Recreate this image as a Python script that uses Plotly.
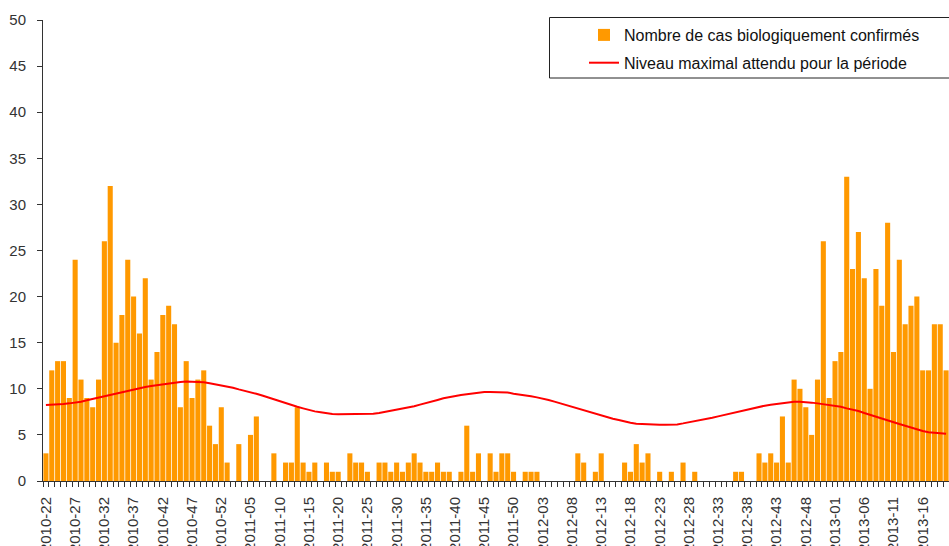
import plotly.graph_objects as go

# ---- data -------------------------------------------------------------
year_weeks = [(2010, 22, 52), (2011, 1, 52), (2012, 1, 52), (2013, 1, 20)]
weeks = [f"{y}-{w:02d}" for (y, a, b) in year_weeks for w in range(a, b + 1)]

cases_2010 = [3, 12, 13, 13, 9, 24, 11, 9, 8, 11, 26, 32, 15, 18, 24, 20, 16, 22, 11, 14,
              18, 19, 17, 8, 13, 9, 11, 12, 6, 4, 8]
cases_2011 = [2, 0, 4, 0, 5, 7, 0, 0, 3, 0, 2, 2, 8, 2, 1, 2, 0, 2, 1, 1,
              0, 3, 2, 2, 1, 0, 2, 2, 1, 2, 1, 2, 3, 2, 1, 1, 2, 1, 1, 0,
              1, 6, 1, 3, 0, 3, 1, 3, 3, 1, 0, 1]
cases_2012 = [1, 1, 0, 0, 0, 0, 0, 0, 3, 2, 0, 1, 3, 0, 0, 0, 2, 1, 4, 2,
              3, 0, 1, 0, 1, 0, 2, 0, 1, 0, 0, 0, 0, 0, 0, 1, 1, 0, 0, 3,
              2, 3, 2, 7, 2, 11, 10, 8, 5, 11, 26, 9]
cases_2013 = [13, 14, 33, 23, 27, 22, 10, 23, 19, 28, 14, 24, 17, 19, 20, 12, 12, 17, 17, 12]

level_2010 = [8.25, 8.27, 8.31, 8.36, 8.42, 8.5, 8.6, 8.75, 8.9, 9.05, 9.2, 9.35, 9.5, 9.65,
              9.8, 9.95, 10.1, 10.2, 10.3, 10.4, 10.5, 10.6, 10.7, 10.75, 10.78, 10.78,
              10.75, 10.7, 10.6, 10.5, 10.35]
level_2011 = [10.23, 10.12, 9.94, 9.8, 9.63, 9.46, 9.27, 9.06, 8.84, 8.62, 8.41, 8.22, 8.05,
              7.88, 7.7, 7.55, 7.45, 7.34, 7.27, 7.23, 7.23, 7.23, 7.23, 7.23, 7.25, 7.3,
              7.37, 7.48, 7.63, 7.77, 7.87, 7.95, 8.1, 8.28, 8.43, 8.61, 8.79, 8.97, 9.11,
              9.22, 9.33, 9.4, 9.5, 9.58, 9.65, 9.65, 9.65, 9.65, 9.6, 9.47, 9.4, 9.33]
level_2012 = [9.18, 9.07, 8.96, 8.79, 8.61, 8.42, 8.24, 8.1, 7.9, 7.68, 7.47, 7.29, 7.09,
              6.94, 6.76, 6.61, 6.45, 6.32, 6.22, 6.18, 6.14, 6.11, 6.11, 6.11, 6.11, 6.14,
              6.25, 6.36, 6.47, 6.58, 6.72, 6.87, 7.01, 7.16, 7.34, 7.48, 7.59, 7.77, 7.92,
              8.03, 8.17, 8.27, 8.35, 8.42, 8.53, 8.6, 8.6, 8.57, 8.5, 8.42, 8.32, 8.28]
level_2013 = [8.17, 8.06, 7.88, 7.74, 7.59, 7.37, 7.16, 6.98, 6.76, 6.58, 6.36, 6.18, 6.0,
              5.79, 5.61, 5.42, 5.28, 5.21, 5.17, 5.13]

y_ticks = [0, 5, 10, 15, 20, 25, 30, 35, 40, 45, 50]

cases = cases_2010 + cases_2011 + cases_2012 + cases_2013
levels = level_2010 + level_2011 + level_2012 + level_2013
xs = list(range(len(weeks)))

# ---- figure -----------------------------------------------------------
FONT = "Liberation Sans, Arial, sans-serif"
TXT = "#333333"

fig = go.Figure()
fig.add_trace(go.Bar(
    x=xs, y=cases, name="Nombre de cas biologiquement confirmés",
    marker=dict(color="#FF9900", line=dict(width=0)),
    legendgroup="a",
))
fig.add_trace(go.Scatter(
    x=xs, y=levels, mode="lines", name="Niveau maximal attendu pour la période",
    line=dict(color="#FF0000", width=2),
    legendgroup="b",
))

W, H = 949, 546
ML, MR, MT, MB = 43, 0, 20, 65
pw = W - ML - MR
ph = H - MT - MB

def px_x(p):
    return (p - ML) / pw

def px_y(p):
    return (H - MB - p) / ph

fig.update_layout(
    width=W, height=H,
    margin=dict(l=ML, r=MR, t=MT, b=MB, pad=0),
    paper_bgcolor="white", plot_bgcolor="white",
    font=dict(family=FONT, size=15, color=TXT),
    bargap=0.13,
    showlegend=True,
    legend=dict(
        x=px_x(584), y=px_y(18), xanchor="left", yanchor="top",
        bgcolor="rgba(0,0,0,0)", borderwidth=0,
        font=dict(family=FONT, size=16, color="#111111"),
        traceorder="grouped", tracegroupgap=4,
    ),
    shapes=[dict(
        type="rect", xref="paper", yref="paper",
        x0=px_x(549.5), x1=1.02, y0=px_y(78), y1=px_y(17.5),
        line=dict(color="#222222", width=1), fillcolor="rgba(0,0,0,0)",
    )],
)

fig.update_xaxes(
    range=[-0.5, len(weeks) - 0.5],
    tickmode="array", tickvals=xs[::5], ticktext=weeks[::5],
    tickangle=-90, ticks="", ticklabelstandoff=9,
    tickfont=dict(family=FONT, size=15, color=TXT),
    minor=dict(tick0=-0.5, dtick=1, ticks="outside", ticklen=5, tickcolor="#333333", tickwidth=1),
    showline=True, linecolor="#333333", linewidth=1,
    showgrid=False, zeroline=False, automargin=False, fixedrange=True,
)
fig.update_yaxes(
    range=[0, 50], tickmode="array", tickvals=y_ticks,
    ticks="outside", ticklen=5, tickcolor="#333333", ticklabelstandoff=8,
    tickfont=dict(family=FONT, size=15, color=TXT),
    showline=True, linecolor="#333333", linewidth=1,
    showgrid=False, zeroline=False, automargin=False, fixedrange=True,
)

# remove the default page margin so the 949x546 figure fills the window exactly
fig.write_html(
    "out.html",
    config={"displayModeBar": False},
    post_script="document.body.style.margin='0';document.body.style.overflow='hidden';",
)
